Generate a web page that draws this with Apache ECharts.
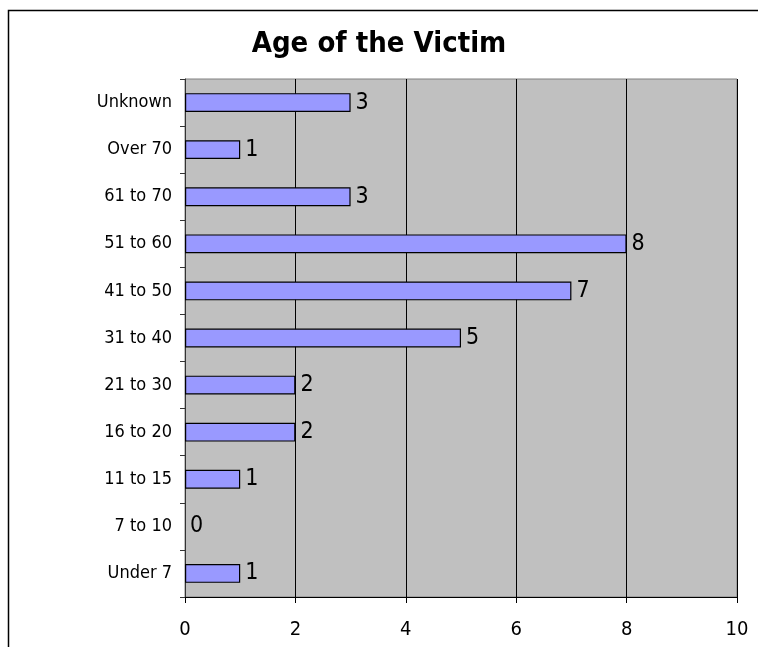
<!DOCTYPE html>
<html>
<head>
<meta charset="utf-8">
<script src="https://cdn.jsdelivr.net/npm/echarts@6/dist/echarts.min.js"></script>
<style>
    html, body { margin: 0; padding: 0; background: #fff; }
    #chart { width: 758px; height: 647px; }
</style>
</head>
<body>
<div id="chart"></div>
<script>
// age groups, bottom to top
const categories = ["Under 7", "7 to 10", "11 to 15", "16 to 20", "21 to 30", "31 to 40",
    "41 to 50", "51 to 60", "61 to 70", "Over 70", "Unknown"];
const victims = [1, 0, 1, 2, 2, 5, 7, 8, 3, 1, 3];
const xTicks = [0, 2, 4, 6, 8, 10];

const FONT = "'DejaVu Sans Condensed', 'Liberation Sans Narrow', 'Liberation Sans', Arial, sans-serif";

const chart = echarts.init(document.getElementById("chart"));

chart.setOption({
    animation: false,
    backgroundColor: "#fff",
    title: {
        text: "Age of the Victim",
        left: "center",
        top: 25,
        textStyle: { fontFamily: FONT, fontSize: 29, fontWeight: "bold", color: "#000" }
    },
    graphic: [
        {
            type: "rect",
            shape: { x: 8.5, y: 10.5, width: 760, height: 700 },
            style: { fill: "none", stroke: "#000", lineWidth: 1.5 },
            silent: true
        }
    ],
    grid: {
        left: 185,
        right: 21,
        top: 79,
        bottom: 50,
        show: true,
        backgroundColor: "#C0C0C0",
        borderColor: "#808080",
        borderWidth: 1
    },
    xAxis: {
        type: "value",
        min: xTicks[0],
        max: xTicks[xTicks.length - 1],
        interval: 2,
        axisLine: { show: true, lineStyle: { color: "#000", width: 1 } },
        axisTick: { show: true, length: 6, lineStyle: { color: "#000" } },
        axisLabel: { fontFamily: FONT, fontSize: 20, color: "#000", margin: 23 },
        splitLine: { show: true, lineStyle: { color: "#000", width: 1 } }
    },
    yAxis: {
        type: "category",
        data: categories,
        axisLine: { show: true, lineStyle: { color: "#333", width: 1 } },
        axisTick: { show: true, length: 5, lineStyle: { color: "#333" } },
        axisLabel: { fontFamily: FONT, fontSize: 18, color: "#000", margin: 13 }
    },
    series: [
        {
            type: "bar",
            data: victims.map((v) => (v === 0 ? { value: v, itemStyle: { borderWidth: 0 } } : v)),
            barCategoryGap: "60%",
            itemStyle: { color: "#9999FF", borderColor: "#000", borderWidth: 1.2 },
            label: {
                show: true,
                position: "right",
                distance: 5,
                fontFamily: FONT,
                fontSize: 23,
                color: "#000"
            }
        }
    ]
});
</script>
</body>
</html>
